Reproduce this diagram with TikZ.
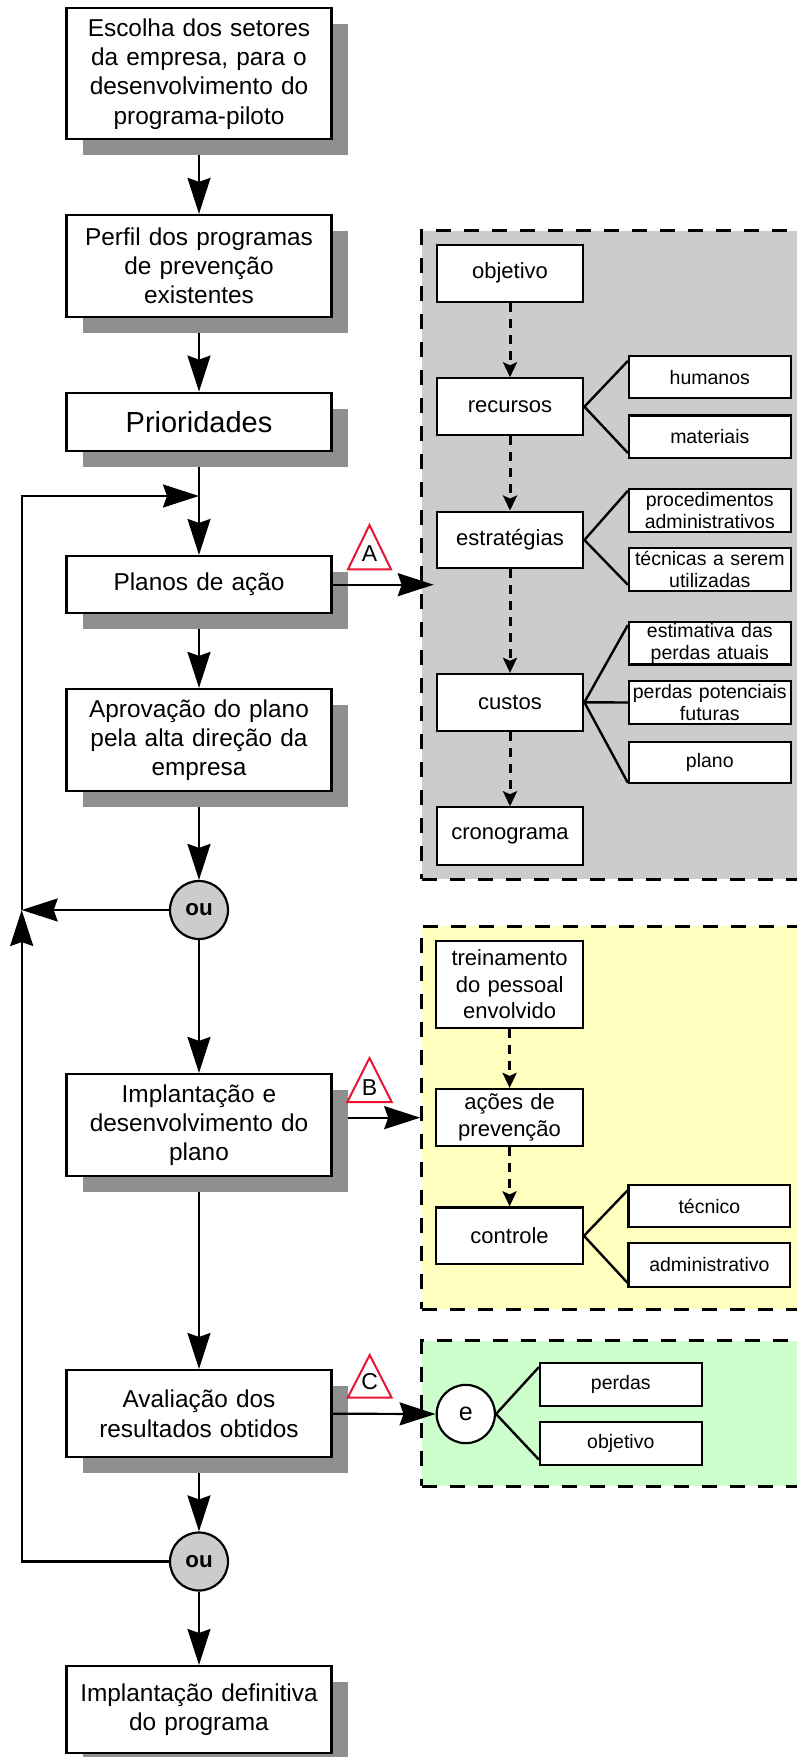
\documentclass[tikz,border=0pt]{standalone}
\usepackage{fontspec}
\setmainfont{Liberation Sans}
\usetikzlibrary{arrows.meta,shadows,calc}
\definecolor{shadowgray}{RGB}{143,143,143}
\definecolor{boxgray}{RGB}{204,204,204}
\definecolor{lyellow}{RGB}{255,255,192}
\definecolor{lgreen}{RGB}{204,255,204}
\definecolor{tred}{RGB}{232,20,50}
\pgfdeclarelayer{back}
\pgfdeclarelayer{lines}
\pgfsetlayers{back,lines,main}
\begin{document}
\begin{tikzpicture}[x=1pt,y=-1pt,
  mainbox/.style={draw, line width=2.2pt, fill=white, minimum width=265pt, text width=258pt,
    align=center, inner sep=0pt, font=\fontsize{24.4}{29.3}\selectfont,
    drop shadow={shadow xshift=16pt, shadow yshift=-16pt, fill=shadowgray, opacity=1}},
  leftbox/.style={draw, line width=2.2pt, fill=white, minimum width=146.6pt, minimum height=56.7pt,
    text width=140pt, align=center, inner sep=0pt, font=\fontsize{22}{26.7}\selectfont},
  rightbox/.style={draw, line width=2.2pt, fill=white, minimum width=161.7pt, minimum height=42.3pt,
    text width=158pt, align=center, inner sep=0pt, font=\fontsize{19.5}{22}\selectfont},
  orcircle/.style={circle, draw, line width=2.2pt, fill=boxgray, minimum size=58pt, inner sep=0pt,
    font=\bfseries\fontsize{22.4}{26}\selectfont},
  ecircle/.style={circle, draw, line width=2.2pt, fill=white, minimum size=58.3pt, inner sep=0pt,
    font=\fontsize{25}{28}\selectfont},
  container/.style={draw, line width=3pt, dash pattern=on 15pt off 13pt, inner sep=0pt},
  bigarrow/.style={line width=2.2pt, -{Stealth[length=36pt,width=23pt,inset=4pt]}},
  dasharrow/.style={line width=3pt, dash pattern=on 9pt off 7pt, -{Stealth[length=15pt,width=14pt,inset=3pt]}},
  branch/.style={line width=2.4pt},
  tri/.style={draw=tred, line width=2pt, fill=white, line join=miter},
  trilabel/.style={inner sep=0pt, font=\fontsize{23}{23}\selectfont}
]
\useasboundingbox (0,0) rectangle (796,1757);

% containers
\begin{pgfonlayer}{back}
\node[container, fill=boxgray, minimum width=390.3pt, minimum height=648.6pt] (gbox) at (616.85,555) {};
\node[container, fill=lyellow, minimum width=390.3pt, minimum height=383.3pt] (ybox) at (616.85,1117.65) {};
\node[container, fill=lgreen, minimum width=390.3pt, minimum height=145.3pt] (grbox) at (616.85,1413.35) {};
\end{pgfonlayer}

% main column
\node[mainbox, minimum height=131pt] (b1) at (199,73.8) {Escolha dos setores\\da empresa, para o\\desenvolvimento do\\programa-piloto};
\node[mainbox, minimum height=101.7pt] (b2) at (199,265.8) {Perfil dos programas\\de prevenção\\existentes};
\node[mainbox, minimum height=58pt, font=\fontsize{29}{34}\selectfont] (b3) at (199,421.7) {Prioridades};
\node[mainbox, minimum height=57.3pt] (b4) at (199,584.7) {Planos de ação};
\node[mainbox, minimum height=102pt] (b5) at (199,740) {Aprovação do plano\\pela alta direção da\\empresa};
\node[orcircle] (ou1) at (199,910) {ou};
\node[mainbox, minimum height=102pt] (b6) at (199,1125) {Implantação e\\desenvolvimento do\\plano};
\node[mainbox, minimum height=87.3pt] (b7) at (199,1413.7) {Avaliação dos\\resultados obtidos};
\node[orcircle] (ou2) at (199,1561.5) {ou};
\node[mainbox, minimum height=87.3pt] (b8) at (199,1709.7) {Implantação definitiva\\do programa};

% gray container contents
\node[leftbox] (g1) at (510,273.3) {objetivo};
\node[leftbox] (g2) at (510,406.7) {recursos};
\node[leftbox] (g3) at (510,540) {estratégias};
\node[leftbox] (g4) at (510,702.3) {custos};
\node[leftbox, minimum height=57.7pt] (g5) at (510,836.2) {cronograma};
\node[rightbox] (h1) at (709.8,377.2) {humanos};
\node[rightbox] (h2) at (709.8,436.7) {materiais};
\node[rightbox] (h3) at (709.8,510.5) {procedimentos\\administrativos};
\node[rightbox] (h4) at (709.8,569.5) {técnicas a serem\\utilizadas};
\node[rightbox] (h5) at (709.8,643.3) {estimativa das\\perdas atuais};
\node[rightbox, minimum height=43pt] (h6) at (709.8,702.5) {perdas potenciais\\futuras};
\node[rightbox, minimum height=41pt] (h7) at (709.8,762.2) {plano};

% yellow container contents
\node[leftbox, minimum height=87pt] (y1) at (509.6,984.2) {treinamento\\do pessoal\\envolvido};
\node[leftbox, minimum height=57pt] (y2) at (509.6,1117.5) {ações de\\prevenção};
\node[leftbox] (y3) at (509.6,1235.8) {controle};
\node[rightbox] (y4) at (709.4,1206.2) {técnico};
\node[rightbox, minimum height=43.4pt] (y5) at (709.4,1265) {administrativo};

% green container contents
\node[ecircle] (e) at (465.8,1414) {e};
\node[rightbox, minimum height=43pt] (p1) at (620.8,1384.2) {perdas};
\node[rightbox, minimum height=43.3pt] (p2) at (620.8,1443.3) {objetivo};

\coordinate (cT) at (21.7,496);
\coordinate (jT) at (199,496);
\coordinate (cL) at (21.7,910);
\coordinate (cB) at (21.7,1561.5);

\begin{pgfonlayer}{lines}
\draw[bigarrow] (b1.south) -- (b2.north);
\draw[bigarrow] (b2.south) -- (b3.north);
\draw[bigarrow] (b3.south) -- (b4.north);
\draw[bigarrow] (b4.south) -- (b5.north);
\draw[bigarrow] (b5.south) -- (ou1.north);
\draw[bigarrow] (ou1.south) -- (b6.north);
\draw[bigarrow] (b6.south) -- (b7.north);
\draw[bigarrow] (b7.south) -- (ou2.north);
\draw[bigarrow] (ou2.south) -- (b8.north);
\draw[bigarrow] (ou1.west) -- (cL);
\draw[bigarrow] (ou2.west) -- (cB) -- (cL);
\draw[bigarrow] (cL) -- (cT) -- (jT);
\draw[bigarrow] (b6.east |- ybox.west) -- (ybox.west);

\draw[dasharrow] (g1.south) -- (g2.north);
\draw[dasharrow] (g2.south) -- (g3.north);
\draw[dasharrow] (g3.south) -- (g4.north);
\draw[dasharrow] (g4.south) -- (g5.north);
\draw[dasharrow] (y1.south) -- (y2.north);
\draw[dasharrow] (y2.south) -- (y3.north);

\draw[branch] (g2.east) -- ([yshift=-6pt]h1.north west);
\draw[branch] (g2.east) -- ([yshift=6pt]h2.south west);
\draw[branch] (g3.east) -- ([yshift=-2.5pt]h3.north west);
\draw[branch] (g3.east) -- ([yshift=7pt]h4.south west);
\draw[branch] (g4.east) -- ([yshift=-4pt]h5.north west);
\draw[branch] (g4.east) -- (h6.west);
\draw[branch] (g4.east) -- ([yshift=1pt]h7.south west);
\draw[branch] (y3.east) -- ([yshift=-6.5pt]y4.north west);
\draw[branch] (y3.east) -- ([yshift=5pt]y5.south west);
\draw[branch] (e.east) -- ([yshift=-5.5pt]p1.north west);
\draw[branch] (e.east) -- ([yshift=6.5pt]p2.south west);
\end{pgfonlayer}

% side arrows over shadows
\draw[bigarrow] (b4.east) -- ([xshift=13.5pt]gbox.west |- b4.east);
\draw[bigarrow] (b7.east) -- (e.west);

% warning triangles
\coordinate (tA) at (369.5,525);
\coordinate (tB) at (369.5,1058);
\coordinate (tC) at (369.7,1355);
\draw[tri] (tA) -- ++(-21.5,44.3) -- ++(43,0) -- cycle;
\draw[tri] (tB) -- ++(-22.2,44) -- ++(44.4,0) -- cycle;
\draw[tri] (tC) -- ++(-22,42.7) -- ++(44,0) -- cycle;
\node[trilabel] (lA) at (369.5,553.5) {A};
\node[trilabel] (lB) at (369.5,1087.5) {B};
\node[trilabel] (lC) at (369.7,1382) {C};
\end{tikzpicture}
\end{document}
